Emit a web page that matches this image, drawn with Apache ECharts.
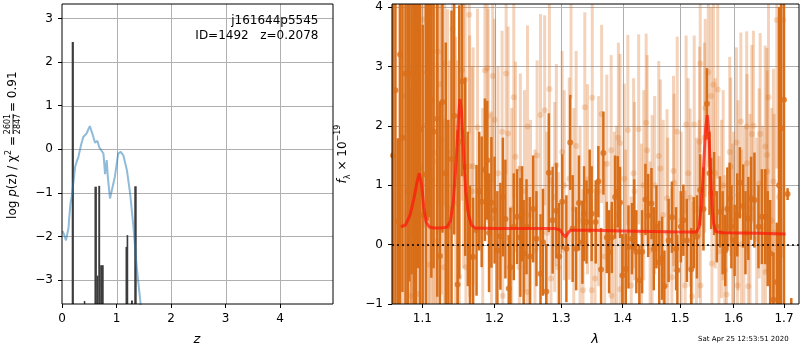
<!DOCTYPE html>
<html>
<head>
<meta charset="utf-8">
<script src="https://cdn.jsdelivr.net/npm/echarts@6/dist/echarts.min.js"></script>
<style>
html, body { margin: 0; padding: 0; background: #fff; }
#chart { width: 800px; height: 350px; }
</style>
</head>
<body>
<div id="chart"></div>
<script>
// ---- left panel: log p(z) ----
var pzZ = [0.012, 0.024, 0.05, 0.073, 0.098, 0.12, 0.134, 0.155, 0.178, 0.21, 0.24, 0.27, 0.30, 0.35, 0.39, 0.45, 0.51,
  0.556, 0.606, 0.65, 0.685, 0.72, 0.76, 0.79, 0.82, 0.84, 0.88, 0.91, 0.97, 1.03, 1.077, 1.125, 1.19, 1.25, 1.31,
  1.37, 1.44, 1.50];
var pzLogp = [-1.88, -1.86, -2.0, -2.09, -2.05, -1.8, -1.55, -1.25, -1.09, -0.75, -0.41, -0.28, -0.18, 0.10, 0.28,
  0.36, 0.53, 0.36, 0.15, 0.19, 0.04, 0.07, -0.10, -0.57, -0.25, -0.63, -1.13, -1.09, -0.63, -0.10, -0.06, -0.14,
  -0.48, -1.02, -1.78, -2.70, -3.53, -4.3];
// dark spikes (z range and height)
var barZlo = [0.178, 0.40, 0.595, 0.64, 0.665, 0.70, 1.165, 1.185, 1.265, 1.325];
var barZhi = [0.218, 0.42, 0.64, 0.665, 0.70, 0.765, 1.185, 1.215, 1.30, 1.37];
var barTop = [2.46, -3.48, -0.86, -2.9, -0.84, -2.66, -2.24, -1.97, -3.47, -0.85];
var zTicks = [0, 1, 2, 3, 4];
var logpTicks = [-3, -2, -1, 0, 1, 2, 3];

// ---- right panel: spectrum ----
var darkLam = [1.062, 1.065, 1.068, 1.071, 1.074, 1.078, 1.081, 1.083, 1.086, 1.089, 1.0916, 1.094, 1.097, 1.1005,
  1.1047, 1.107, 1.1093, 1.112, 1.115, 1.120, 1.1236, 1.127, 1.1315, 1.135, 1.1394, 1.143, 1.1478, 1.150, 1.1538,
  1.1583, 1.162, 1.1649, 1.1694, 1.1742, 1.178, 1.1815, 1.1861, 1.1894, 1.192, 1.1954, 1.200, 1.204, 1.2084, 1.212,
  1.2157, 1.2206, 1.2231, 1.228, 1.2329, 1.2378, 1.2403, 1.2427, 1.247, 1.252, 1.257, 1.262, 1.2682, 1.272, 1.277,
  1.2809, 1.2868, 1.2926, 1.297, 1.3017, 1.3083, 1.3144, 1.3182, 1.3238, 1.3282, 1.3338, 1.3364, 1.3404, 1.3455,
  1.3487, 1.3553, 1.3596, 1.3641, 1.3679, 1.3735, 1.3773, 1.3818, 1.3873, 1.3917, 1.3955, 1.3994, 1.4052, 1.4098,
  1.4157, 1.4195, 1.4232, 1.4284, 1.4332, 1.4389, 1.4436, 1.4494, 1.4534, 1.458, 1.463, 1.468, 1.4721, 1.4796,
  1.4855, 1.493, 1.4953, 1.5015, 1.5061, 1.5124, 1.5204, 1.525, 1.5309, 1.537, 1.543, 1.5494, 1.5542, 1.5574,
  1.5629, 1.568, 1.574, 1.579, 1.584, 1.588, 1.5925, 1.5957, 1.602, 1.607, 1.612, 1.6186, 1.623, 1.6286, 1.634,
  1.6406, 1.6486, 1.6554, 1.662, 1.667, 1.672, 1.6786, 1.6854, 1.690, 1.694, 1.700, 1.7074, 1.715];
var darkFlux = [1.5, 2.6, 0.39, 3.2, 1.8, 2.88, 0.9, 2.88, 4.5, 0.2, 1.20, 2.6, 1.94, 0.5,
  1.18, 2.9, 3.96, 2.44, 1.90, 2.12, -0.19, 2.4, 1.20, 0.3, 1.44, 2.17, -0.67, 1.73, 2.75,
  1.31, 0.6, -0.21, -0.21, 0.24, 0.9, 0.72, 1.26, 1.42, 0.2, 0.71, 0.58, -0.1, 0.14, 0.8,
  0.43, -0.74, -0.38, 0.3, 0.47, 0.12, 0.52, -0.15, 0.3, -0.2, 0.6, 0.1, -0.49, 0.04, -0.79,
  1.21, 0.41, 0.57, -0.2, 0.72, -0.07, 1.72, 0.27, -0.07, 0.70, 0.04, 0.52, 0.38, 0.9,
  0.52, 0.38, 1.06, -0.42, 1.54, 0.12, -0.12, 0.12, 0.80, 0.89, 0.71, -0.52, -0.41, -0.04,
  0.10, 0.5, -0.12, -0.60, -0.12, 0.76, 0.49, 0.69, -0.07, 0.3, -0.3, -0.23, -0.70, 0.07,
  0.46, -0.07, -0.43, 0.3, 0.41, 0.07, -0.42, 0.2, 0.13, 0.92, 0.6, 2.37, 1.20, 0.86,
  0.86, 0.3, 0.55, 0.2, -0.1, 0.6, 0.78, 0.30, 0.07, 0.5, 1.04, 0.65, 0.2, 0.44, 0.78,
  0.75, 0.30, 0.47, 0.47, 0.1, -0.15, -0.93, -0.63, 1.0, 1.96, 2.44, 0.85, -1.4];
var darkErr = [5.0, 4.5, 1.4, 4.8, 2.6, 4.0, 4.2, 3.5, 5.0, 4.0, 4.5, 3.0, 4.0, 3.2,
  3.6, 2.5, 3.5, 3.0, 2.3, 3.0, 2.6, 2.2, 2.2, 1.8, 2.5, 2.0, 2.6, 2.3, 1.6,
  1.5, 1.3, 1.2, 1.0, 1.1, 1.0, 1.1, 1.2, 1.0, 1.0, 1.1, 0.9, 1.0, 0.9, 1.0,
  1.0, 0.9, 1.0, 0.9, 0.8, 1.0, 0.8, 0.9, 0.8, 1.0, 0.9, 0.8, 1.0, 0.9, 0.8,
  1.0, 0.9, 0.8, 0.9, 0.8, 0.9, 0.8, 0.9, 0.7, 0.8, 0.7, 0.8, 0.7, 0.7,
  0.8, 0.7, 0.6, 0.7, 0.7, 0.6, 0.7, 0.6, 0.7, 0.6, 0.6, 0.7, 0.6, 0.7,
  0.6, 0.6, 0.7, 0.6, 0.7, 0.6, 0.7, 0.6, 0.7, 0.7, 0.7, 0.7, 0.6, 0.7,
  0.6, 0.7, 0.6, 0.6, 0.6, 0.7, 0.7, 0.6, 0.7, 0.6, 0.7, 0.6, 0.7, 0.6,
  0.7, 0.6, 0.6, 0.7, 0.6, 0.7, 0.6, 0.7, 0.6, 0.7, 0.6, 0.7, 0.7, 0.7, 0.7,
  0.8, 0.7, 0.8, 0.8, 0.8, 0.9, 0.8, 1.0, 3.0, 4.5, 5.0, 0.1, 0.5];

var lightLam = [1.070, 1.075, 1.080, 1.0836, 1.0854, 1.0859, 1.0863, 1.090, 1.0947, 1.098, 1.1014, 1.105, 1.1083,
  1.1100, 1.1107, 1.113, 1.1153, 1.118, 1.120, 1.1208, 1.123, 1.1256, 1.1292, 1.1301, 1.1339, 1.137, 1.1408, 1.145,
  1.1478, 1.150, 1.1538, 1.156, 1.1583, 1.1593, 1.1639, 1.1645, 1.168, 1.1694, 1.1756, 1.183, 1.1861, 1.1894, 1.1908,
  1.1954, 1.1972, 1.200, 1.205, 1.2109, 1.2118, 1.2168, 1.2197, 1.225, 1.228, 1.2305, 1.2363, 1.2378, 1.244, 1.2476,
  1.2485, 1.253, 1.2598, 1.263, 1.2682, 1.2745, 1.278, 1.2818, 1.2843, 1.290, 1.2926, 1.2956, 1.3017, 1.305, 1.3128,
  1.3156, 1.320, 1.3238, 1.330, 1.3348, 1.3376, 1.342, 1.3487, 1.3497, 1.3542, 1.360, 1.365, 1.370, 1.3735, 1.3807,
  1.3812, 1.386, 1.390, 1.3928, 1.3955, 1.3960, 1.4028, 1.405, 1.4087, 1.4145, 1.4185, 1.420, 1.4272, 1.432, 1.436,
  1.4401, 1.4419, 1.447, 1.4506, 1.455, 1.4621, 1.4651, 1.470, 1.4768, 1.478, 1.4855, 1.4883, 1.4895, 1.495, 1.502,
  1.5093, 1.5111, 1.515, 1.5185, 1.5216, 1.5259, 1.530, 1.535, 1.5357, 1.537, 1.5375, 1.545, 1.5463, 1.552, 1.557,
  1.5587, 1.5616, 1.565, 1.5697, 1.5721, 1.577, 1.580, 1.5832, 1.5864, 1.5925, 1.5944, 1.598, 1.600, 1.6054, 1.6074,
  1.6086, 1.614, 1.615, 1.620, 1.6254, 1.6260, 1.6286, 1.632, 1.6354, 1.6386, 1.645, 1.650, 1.652, 1.657, 1.662,
  1.6625, 1.6654, 1.6660, 1.6686, 1.675, 1.6786, 1.680, 1.6854, 1.690, 1.6986];
var lightFlux = [1.0, 2.5, 0.5, -0.86, 1.75, 0.25, 1.54, 2.2, -0.83, 1.3, 3.79, 2.0, 0.87,
  -0.34, 3.25, 1.09, 1.54, 1.4, 0.06, 3.25, 2.7, 1.76, -0.38, 3.05, 1.56, 0.6, 3.63, 1.0,
  0.70, -0.54, 2.94, 1.9, 2.78, -0.38, 3.87, 1.32, 0.9, 1.32, 1.97, 0.3, 2.93, 2.97, 2.17,
  0.44, 2.84, 2.10, 1.2, 1.90, -0.86, 2.88, 1.87, 0.6, 2.48, 1.48, -0.38, 1.28, 0.9, -0.80,
  1.99, 0.5, -0.10, 1.5, 2.18, 2.26, 0.2, 2.62, -0.57, 0.8, 1.34, -0.38, 1.56, 1.0, 1.11,
  4.06, 0.6, 1.66, 0.4, -0.77, 2.31, 1.1, -0.77, 2.47, -0.57, 0.9, 2.2, -0.2, 1.36, 1.59,
  -0.86, 0.3, 0.5, 1.80, 1.71, -0.75, 1.11, 0.1, 1.93, -0.69, 1.20, 0.9, 1.94, 0.2, 1.0,
  2.05, 1.59, -0.1, 0.58, 1.0, 1.49, 1.28, 0.5, 0.78, 0.2, -0.55, 1.24, 1.04, 1.9, 0.4,
  -0.69, 2.02, 1.2, 0.79, -0.87, 2.02, 0.2, 0.6, 1.73, 3.05, -0.69, 1.8, 2.30, 2.9, 2.5,
  -0.32, 2.69, 1.2, 2.61, -0.11, 0.6, 1.0, -0.43, -0.84, 1.56, 1.31, 0.1, 0.4, 1.72, -0.69,
  0.83, 2.07, 0.0, 0.5, 1.99, 1.37, -0.70, 0.6, 1.86, 2.00, 0.1, 1.03, 1.86, 0.3, 1.65,
  -0.46, 1.51, 1.23, 2.48, 0.4, 1.06, 0.2, 3.78, 0.8, 3.78];
var lightErr = [4.5, 4.0, 4.0, 3.5, 3.0, 3.5, 3.0, 4.0, 3.5, 3.0, 3.5, 3.0, 3.0,
  3.0, 3.0, 3.0, 2.8, 2.8, 3.0, 2.6, 2.5, 2.6, 2.5, 2.4, 2.4, 2.5, 2.4, 2.5,
  2.4, 2.5, 2.2, 2.3, 2.2, 2.2, 2.0, 2.2, 2.1, 2.0, 2.0, 2.0, 1.8, 1.9, 1.8,
  1.8, 1.8, 1.7, 1.8, 1.7, 1.8, 1.7, 1.8, 1.7, 1.7, 1.6, 1.7, 1.6, 1.7, 1.6,
  1.7, 1.6, 1.7, 1.6, 1.7, 1.6, 1.7, 1.6, 1.7, 1.6, 1.7, 1.6, 1.7, 1.6, 1.7,
  1.6, 1.7, 1.6, 1.6, 1.7, 1.6, 1.6, 1.5, 1.6, 1.5, 1.6, 1.5, 1.6, 1.5, 1.6,
  1.5, 1.6, 1.5, 1.6, 1.5, 1.5, 1.6, 1.5, 1.6, 1.5, 1.6, 1.5, 1.6, 1.5, 1.6,
  1.5, 1.6, 1.5, 1.6, 1.5, 1.6, 1.5, 1.6, 1.5, 1.6, 1.5, 1.6, 1.5, 1.6, 1.5,
  1.6, 1.5, 1.6, 1.5, 1.6, 1.5, 1.6, 1.5, 1.6, 1.5, 1.6, 1.6, 1.5, 1.6, 1.5,
  1.6, 1.5, 1.6, 1.5, 1.6, 1.5, 1.6, 1.6, 1.5, 1.6, 1.5, 1.6, 1.5, 1.6, 1.5,
  1.6, 1.5, 1.6, 1.5, 1.6, 1.5, 1.6, 1.6, 1.5, 1.6, 1.7, 1.6, 1.7, 1.7, 1.7,
  1.7, 1.8, 1.7, 1.8, 1.9, 1.9, 2.0, 2.5, 3.0, 4.0];

var modelLam = [1.072, 1.078, 1.084, 1.089, 1.093, 1.096, 1.099, 1.102, 1.105, 1.109, 1.115, 1.125, 1.133, 1.138,
  1.142, 1.146, 1.149, 1.151, 1.153, 1.156, 1.159, 1.163, 1.167, 1.172, 1.20, 1.25, 1.29, 1.298, 1.303, 1.307, 1.311,
  1.315, 1.35, 1.40, 1.45, 1.50, 1.53, 1.535, 1.539, 1.543, 1.547, 1.550, 1.553, 1.556, 1.559, 1.562, 1.566, 1.58,
  1.65, 1.703];
var modelFlux = [0.30, 0.33, 0.50, 0.78, 1.05, 1.20, 1.02, 0.62, 0.38, 0.30, 0.28, 0.28, 0.29, 0.40,
  0.75, 1.45, 2.15, 2.45, 2.25, 1.55, 0.90, 0.50, 0.33, 0.28, 0.27, 0.27, 0.27, 0.25, 0.17, 0.13, 0.20,
  0.24, 0.24, 0.23, 0.22, 0.21, 0.21, 0.30, 0.65, 1.30, 1.95, 2.18, 1.90, 1.25, 0.65, 0.35, 0.22, 0.20,
  0.19, 0.18];
var lamTicks = [1.1, 1.2, 1.3, 1.4, 1.5, 1.6, 1.7];
var fluxTicks = [-1, 0, 1, 2, 3, 4];

var FONT = 'DejaVu Sans';
var ORANGE = 'rgb(217,110,25)';
var ORANGE_LIGHT = 'rgba(217,110,25,0.3)';
var GRID = '#b0b0b0';
var minus = function (s) { return String(s).replace('-', '\u2212'); };

function errData(lam, flux, err) {
  return lam.map(function (l, i) { return [Math.log(l), flux[i] - err[i], flux[i] + err[i]]; });
}
function errBars(w, color) {
  return function (params, api) {
    var top = api.coord([api.value(0), api.value(2)]);
    var bot = api.coord([api.value(0), api.value(1)]);
    var shape = echarts.graphic.clipRectByRect(
      { x: top[0] - w / 2, y: top[1], width: w, height: bot[1] - top[1] },
      { x: params.coordSys.x, y: params.coordSys.y, width: params.coordSys.width, height: params.coordSys.height });
    return shape && { type: 'rect', shape: shape, style: { fill: color } };
  };
}
// frame round the plot area
function frameSeries(idx) {
  return {
    type: 'custom', xAxisIndex: idx, yAxisIndex: idx, z: 10,
    data: [[0, 0]],
    renderItem: function (params) {
      var cs = params.coordSys;
      return { type: 'rect', shape: { x: cs.x, y: cs.y, width: cs.width, height: cs.height },
        style: { fill: 'none', stroke: '#000', lineWidth: 1 } };
    }
  };
}

var axisCommon = {
  axisLine: { show: false, onZero: false },
  axisTick: { show: true, inside: false, length: 4, lineStyle: { color: '#000' } },
  splitLine: { show: false },
  axisLabel: { color: '#000', fontFamily: FONT, fontSize: 12, margin: 9 }
};
function ax(extra, labelExtra, ticks) {
  var o = JSON.parse(JSON.stringify(axisCommon));
  Object.assign(o, extra);
  Object.assign(o.axisLabel, labelExtra);
  o.axisLabel.customValues = ticks;
  o.axisTick.customValues = ticks;
  return o;
}

var GRIDS = [
  { left: 62, top: 4, width: 271, height: 300, show: false },
  { left: 392, top: 4, width: 407, height: 300, show: false }
];

var chart = echarts.init(document.getElementById('chart'));
chart.setOption({
  animation: false,
  backgroundColor: '#fff',
  grid: GRIDS,
  xAxis: [
    ax({ type: 'value', gridIndex: 0, min: 0, max: 4.97 }, { formatter: minus }, zTicks),
    ax({ type: 'value', gridIndex: 1, min: Math.log(1.0606), max: Math.log(1.731) },
      { formatter: function (v) { return Math.exp(v).toFixed(1); } }, lamTicks.map(Math.log))
  ],
  yAxis: [
    ax({ type: 'value', gridIndex: 0, min: -3.55, max: 3.33 }, { formatter: minus }, logpTicks),
    ax({ type: 'value', gridIndex: 1, min: -1, max: 4.05 }, { formatter: minus }, fluxTicks)
  ],
  series: [
    frameSeries(0),
    frameSeries(1),
    {
      type: 'custom', xAxisIndex: 0, yAxisIndex: 0,
      data: barZlo.map(function (z, i) { return [z, barZhi[i], barTop[i]]; }),
      renderItem: function (params, api) {
        var a = api.coord([api.value(0), api.value(2)]);
        var b = api.coord([api.value(1), -3.55]);
        return { type: 'rect', shape: { x: a[0], y: a[1], width: Math.max(b[0] - a[0], 1.5), height: b[1] - a[1] },
          style: { fill: '#3c3c3c' } };
      }
    },
    {
      type: 'line', xAxisIndex: 0, yAxisIndex: 0, z: 3, symbol: 'none', smooth: false,
      data: pzZ.map(function (z, i) { return [z, pzLogp[i]]; }),
      lineStyle: { color: 'rgba(31,119,180,0.5)', width: 2 }
    },
    {
      type: 'custom', xAxisIndex: 1, yAxisIndex: 1,
      data: errData(lightLam, lightFlux, lightErr), renderItem: errBars(3, ORANGE_LIGHT)
    },
    {
      type: 'scatter', xAxisIndex: 1, yAxisIndex: 1, z: 3, symbolSize: 6,
      data: lightLam.map(function (l, i) { return [Math.log(l), lightFlux[i]]; }),
      itemStyle: { color: ORANGE_LIGHT }
    },
    {
      type: 'custom', xAxisIndex: 1, yAxisIndex: 1, z: 4,
      data: errData(darkLam, darkFlux, darkErr), renderItem: errBars(2.5, ORANGE)
    },
    {
      type: 'scatter', xAxisIndex: 1, yAxisIndex: 1, z: 5, symbolSize: 6,
      data: darkLam.map(function (l, i) { return [Math.log(l), darkFlux[i]]; }),
      itemStyle: { color: ORANGE }
    },
    {
      type: 'line', xAxisIndex: 1, yAxisIndex: 1, z: 6, symbol: 'none',
      data: modelLam.map(function (l, i) { return [Math.log(l), modelFlux[i]]; }),
      lineStyle: { color: 'rgba(255,20,10,0.7)', width: 3 },
      markLine: {
        silent: true, symbol: 'none', label: { show: false },
        lineStyle: { color: '#000', width: 1.6, type: [2, 3] },
        data: [{ yAxis: 0 }]
      }
    }
  ],
  graphic: [
    { type: 'text', x: 318.5, y: 21, style: { text: 'j161644p5545', font: '12px "DejaVu Sans"', fill: '#000', align: 'right', verticalAlign: 'middle' } },
    { type: 'text', x: 318.5, y: 36, style: { text: 'ID=1492   z=0.2078', font: '12px "DejaVu Sans"', fill: '#000', align: 'right', verticalAlign: 'middle' } },
    { type: 'text', x: 197, y: 340, style: { text: 'z', font: 'italic 13px "DejaVu Sans"', fill: '#000', align: 'center', verticalAlign: 'middle' } },
    { type: 'text', x: 595, y: 340, style: { text: '\u03bb', font: 'italic 13px "DejaVu Sans"', fill: '#000', align: 'center', verticalAlign: 'middle' } },
    { type: 'text', x: 698, y: 339, style: { text: 'Sat Apr 25 12:53:51 2020', font: '7px "DejaVu Sans"', fill: '#000', align: 'left', verticalAlign: 'middle' } },
    {
      type: 'group', x: 13, y: 124, rotation: Math.PI / 2,
      children: [
        { type: 'text', x: -12, y: 0, style: { text: 'log {i|p}(z) / \u03c7{s|2} =', font: '12px "DejaVu Sans"', fill: '#000', align: 'right', verticalAlign: 'middle',
          rich: { i: { fontStyle: 'italic', fontSize: 12, fontFamily: FONT }, s: { fontSize: 8, fontFamily: FONT, verticalAlign: 'top', lineHeight: 16 } } } },
        { type: 'text', x: 0, y: -1, style: { text: '2601', font: '8px "DejaVu Sans"', fill: '#000', align: 'center', verticalAlign: 'bottom' } },
        { type: 'line', shape: { x1: -10, y1: 0, x2: 10, y2: 0 }, style: { stroke: '#000', lineWidth: 0.8 } },
        { type: 'text', x: 0, y: 1, style: { text: '2847', font: '8px "DejaVu Sans"', fill: '#000', align: 'center', verticalAlign: 'top' } },
        { type: 'text', x: 12, y: 0, style: { text: '= 0.91', font: '12px "DejaVu Sans"', fill: '#000', align: 'left', verticalAlign: 'middle' } }
      ]
    },
    {
      type: 'group', x: 343, y: 154, rotation: Math.PI / 2,
      children: [
        { type: 'text', x: 0, y: 0, style: { text: '{i|f}{sub|\u03bb} \u00d7 10{sup|\u221219}', font: '12px "DejaVu Sans"', fill: '#000', align: 'center', verticalAlign: 'middle',
          rich: {
            i: { fontStyle: 'italic', fontSize: 12, fontFamily: FONT, lineHeight: 18 },
            sub: { fontSize: 8, fontFamily: FONT, verticalAlign: 'bottom', lineHeight: 18 },
            sup: { fontSize: 8, fontFamily: FONT, verticalAlign: 'top', lineHeight: 18 }
          } } }
      ]
    }
  ]
});

// grid lines at the tick values, placed through the axes' own scales
function gridLines(idx, xs, ys) {
  var g = GRIDS[idx], out = [];
  xs.forEach(function (v) {
    var px = Math.round(chart.convertToPixel({ xAxisIndex: idx }, v)) + 0.5;
    out.push({ type: 'line', z: -1, silent: true, shape: { x1: px, y1: g.top, x2: px, y2: g.top + g.height },
      style: { stroke: GRID, lineWidth: 1 } });
  });
  ys.forEach(function (v) {
    var py = Math.round(chart.convertToPixel({ yAxisIndex: idx }, v)) + 0.5;
    out.push({ type: 'line', z: -1, silent: true, shape: { x1: g.left, y1: py, x2: g.left + g.width, y2: py },
      style: { stroke: GRID, lineWidth: 1 } });
  });
  return out;
}
var gridEls = gridLines(0, zTicks.slice(1), logpTicks).concat(gridLines(1, lamTicks.map(Math.log), fluxTicks.slice(1)));
chart.setOption({ graphic: { elements: gridEls.map(function (e, i) { e.id = 'grid' + i; return e; }) } });
</script>
</body>
</html>
